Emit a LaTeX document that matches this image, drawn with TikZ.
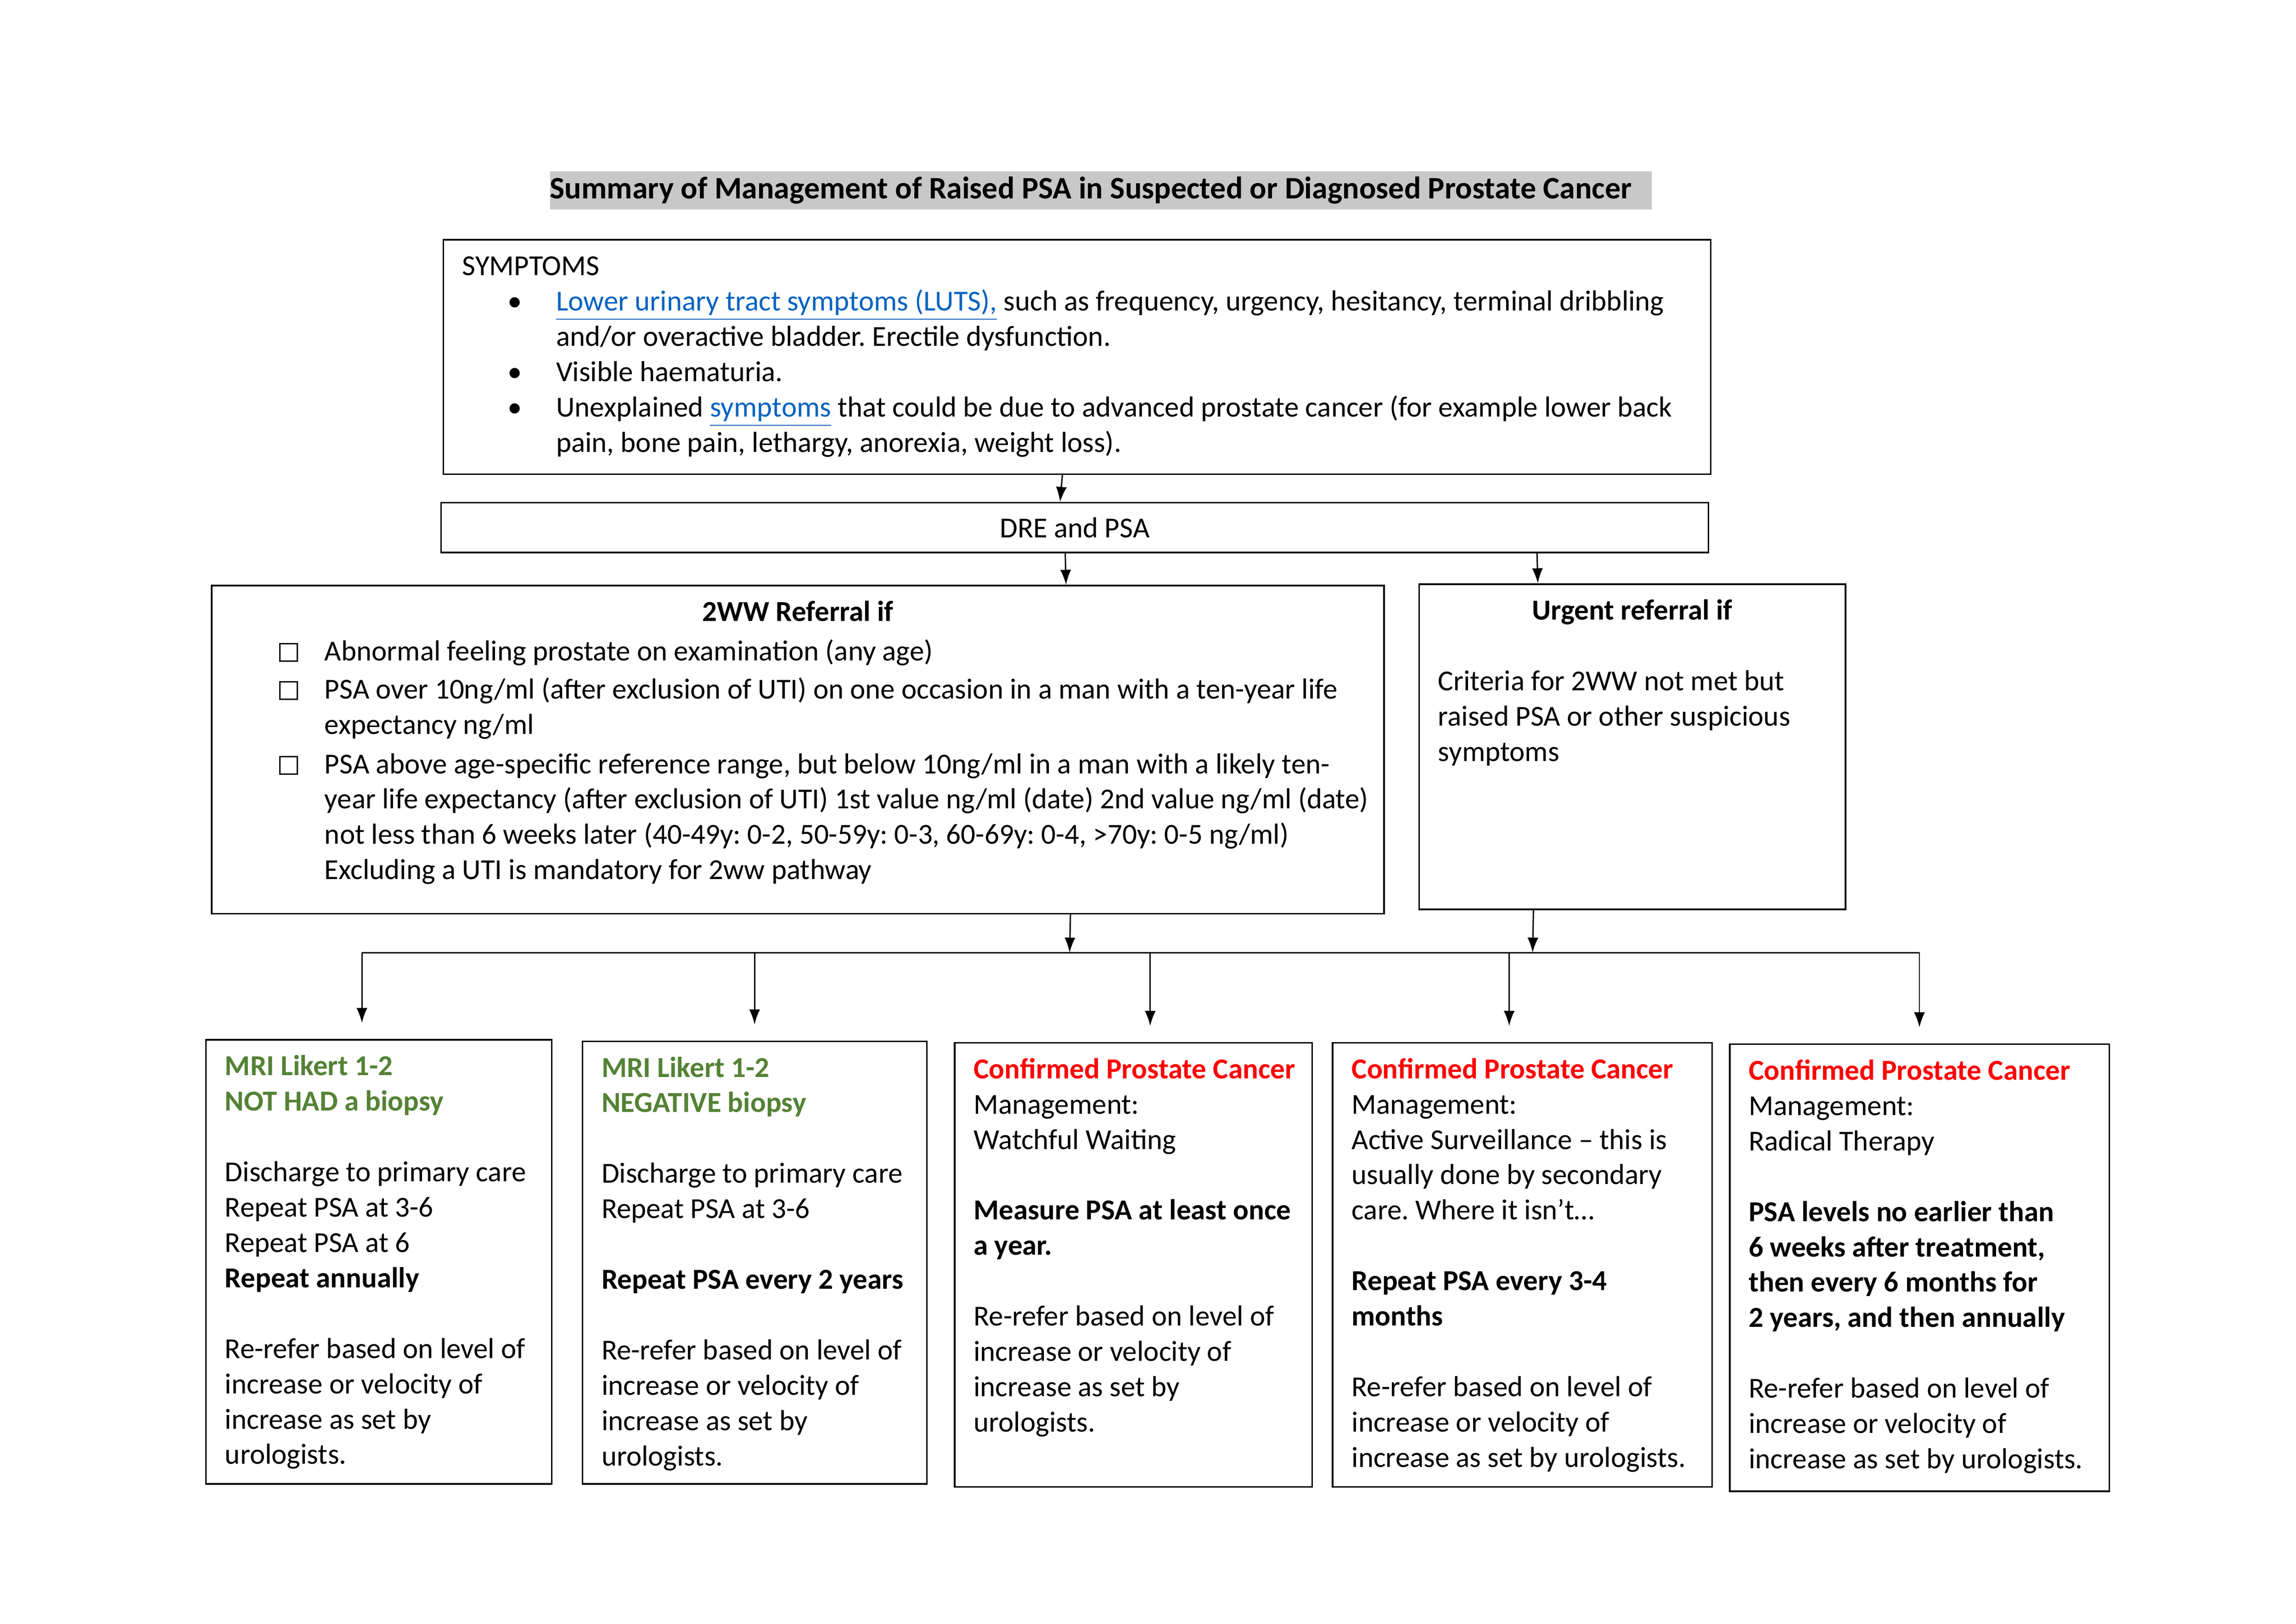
\documentclass[tikz,border=0pt]{standalone}
\usepackage{fontspec}
\setmainfont{Carlito}
\usetikzlibrary{arrows.meta}
\frenchspacing
\definecolor{mrigreen}{RGB}{84,130,53}
\definecolor{linkblue}{RGB}{5,99,193}
\definecolor{titlegray}{RGB}{200,200,200}
\newlength{\pxu}\setlength{\pxu}{0.5393pt}
\newcommand{\boxbody}[3]{\parbox[c][#2][t]{#1}{\raggedright\rightskip=-80\pxu plus 1fil\strut #3}}
\newcommand{\chkbox}{{\setlength{\fboxsep}{0pt}\setlength{\fboxrule}{0.5pt}\fbox{\rule{0pt}{6pt}\rule{6pt}{0pt}}}}
\newcommand{\chkitem}{\hspace*{33\pxu}\makebox[31\pxu][l]{\chkbox}}
\newcommand{\bulitem}{\hspace*{31\pxu}\makebox[33\pxu][l]{\textbullet}}
\newcommand{\contline}{\hspace*{64\pxu}}
\newcommand{\mrihead}[1]{\textcolor{mrigreen}{\textbf{#1}}}
\newcommand{\cancerhead}[1]{\textcolor{red}{\textbf{#1}}}
\tikzstyle{box}=[rectangle, draw, line width=0.6pt, anchor=north west, inner xsep=13\pxu, inner ysep=7.5\pxu, font=\fontsize{10.65pt}{13pt}\selectfont]
\tikzstyle{titlebox}=[rectangle, fill=titlegray, anchor=west, inner sep=0pt, minimum height=26\pxu, font=\fontsize{11.5pt}{13pt}\selectfont\bfseries]
\tikzstyle{bar}=[rectangle, draw, line width=0.6pt, inner sep=0pt, minimum width=865\pxu, minimum height=34\pxu, font=\fontsize{10.65pt}{13pt}\selectfont]
\tikzstyle{arrow}=[draw, line width=0.5pt, -{Latex[length=5.5pt,width=4pt]}]
\begin{document}
\begin{tikzpicture}[x=0.5393pt, y=-0.5393pt]
		\useasboundingbox (0,0) rectangle (1567,1108);
		\node (title) [titlebox] at (375,130) {\makebox[752\pxu][l]{Summary of Management of Raised PSA in Suspected or Diagnosed Prostate Cancer}};
		\node (sym) [box] at (302,163) {\boxbody{839\pxu}{145\pxu}{SYMPTOMS\\
			\bulitem\textcolor{linkblue}{\underline{Lower urinary tract symptoms (LUTS),}} such as frequency, urgency, hesitancy, terminal dribbling\\
			\contline and/or overactive bladder. Erectile dysfunction.\\
			\bulitem Visible haematuria.\\
			\bulitem Unexplained \textcolor{linkblue}{\underline{symptoms}} that could be due to advanced prostate cancer (for example lower back\\
			\contline pain, bone pain, lethargy, anorexia, weight loss).}};
		\node (dre) [bar] at (733.5,360) {DRE and PSA};
		\node (twoww) [box] at (144,399) {\boxbody{774\pxu}{209\pxu}{{\centering\textbf{2WW Referral if}\par}\vspace{1.5pt}
			\chkitem Abnormal feeling prostate on examination (any age)\\[1pt]
			\chkitem PSA over 10ng/ml (after exclusion of UTI) on one occasion in a man with a ten-year life\\
			\contline expectancy ng/ml\\[1.5pt]
			\chkitem PSA above age-specific reference range, but below 10ng/ml in a man with a likely ten-\\
			\contline year life expectancy (after exclusion of UTI) 1st value ng/ml (date) 2nd value ng/ml (date)\\
			\contline not less than 6 weeks later (40-49y: 0-2, 50-59y: 0-3, 60-69y: 0-4, >70y: 0-5 ng/ml)\\
			\contline Excluding a UTI is mandatory for 2ww pathway}};
		\node (urgent) [box] at (968,398) {\boxbody{265\pxu}{207\pxu}{{\centering\textbf{Urgent referral if}\par}\vspace{13pt}
			Criteria for 2WW not met but\\
			raised PSA or other suspicious\\
			symptoms}};
		\node (mri1) [box] at (140,709) {\boxbody{210\pxu}{288\pxu}{\mrihead{MRI Likert 1-2}\\
			\mrihead{NOT HAD a biopsy}\\[13pt]
			Discharge to primary care\\
			Repeat PSA at 3-6\\
			Repeat PSA at 6\\
			\textbf{Repeat annually}\\[13pt]
			Re-refer based on level of\\
			increase or velocity of\\
			increase as set by\\
			urologists.}};
		\node (mri2) [box] at (397,710) {\boxbody{209\pxu}{287\pxu}{\mrihead{MRI Likert 1-2}\\
			\mrihead{NEGATIVE biopsy}\\[13pt]
			Discharge to primary care\\
			Repeat PSA at 3-6\\[13pt]
			\textbf{Repeat PSA every 2 years}\\[13pt]
			Re-refer based on level of\\
			increase or velocity of\\
			increase as set by\\
			urologists.}};
		\node (watch) [box] at (651,711) {\boxbody{218\pxu}{288\pxu}{\cancerhead{Confirmed Prostate Cancer}\\
			Management:\\
			Watchful Waiting\\[13pt]
			\textbf{Measure PSA at least once}\\
			\textbf{a year.}\\[13pt]
			Re-refer based on level of\\
			increase or velocity of\\
			increase as set by\\
			urologists.}};
		\node (active) [box] at (909,711) {\boxbody{233\pxu}{288\pxu}{\cancerhead{Confirmed Prostate Cancer}\\
			Management:\\
			Active Surveillance – this is\\
			usually done by secondary\\
			care. Where it isn’t…\\[13pt]
			\textbf{Repeat PSA every 3-4}\\
			\textbf{months}\\[13pt]
			Re-refer based on level of\\
			increase or velocity of\\
			increase as set by urologists.}};
		\node (radical) [box] at (1180,712) {\boxbody{233\pxu}{290\pxu}{\cancerhead{Confirmed Prostate Cancer}\\
			Management:\\
			Radical Therapy\\[13pt]
			\textbf{PSA levels no earlier than}\\
			\textbf{6 weeks after treatment,}\\
			\textbf{then every 6 months for}\\
			\textbf{2 years, and then annually}\\[13pt]
			Re-refer based on level of\\
			increase or velocity of\\
			increase as set by urologists.}};
		
		\coordinate (j1) at (730,650);
		\coordinate (j2) at (1046,650);
		\coordinate (bus1) at (247,650);
		\coordinate (bus2) at (515,650);
		\coordinate (bus3) at (785,650);
		\coordinate (bus4) at (1030,650);
		\coordinate (bus5) at (1310,650);
		
		\draw[arrow] ([xshift=-10\pxu]sym.south) -- ([xshift=-10\pxu]dre.north);
		\draw[arrow] ([xshift=-6.5\pxu]dre.south) -- ([xshift=183\pxu]twoww.north);
		\draw[arrow] ([xshift=315.5\pxu]dre.south) -- ([xshift=-64.5\pxu]urgent.north);
		\draw[arrow] ([xshift=186\pxu]twoww.south) -- (j1);
		\draw[arrow] ([xshift=-67.5\pxu]urgent.south) -- (j2);
		\draw[line width=0.5pt] (bus1) -- (bus5);
		\draw[arrow, shorten >=11\pxu] (bus1) -- (bus1 |- mri1.north);
		\draw[arrow, shorten >=11\pxu] (bus2) -- (bus2 |- mri2.north);
		\draw[arrow, shorten >=11\pxu] (bus3) -- (bus3 |- watch.north);
		\draw[arrow, shorten >=11\pxu] (bus4) -- (bus4 |- active.north);
		\draw[arrow, shorten >=11\pxu] (bus5) -- (bus5 |- radical.north);
		
\end{tikzpicture}
\end{document}
